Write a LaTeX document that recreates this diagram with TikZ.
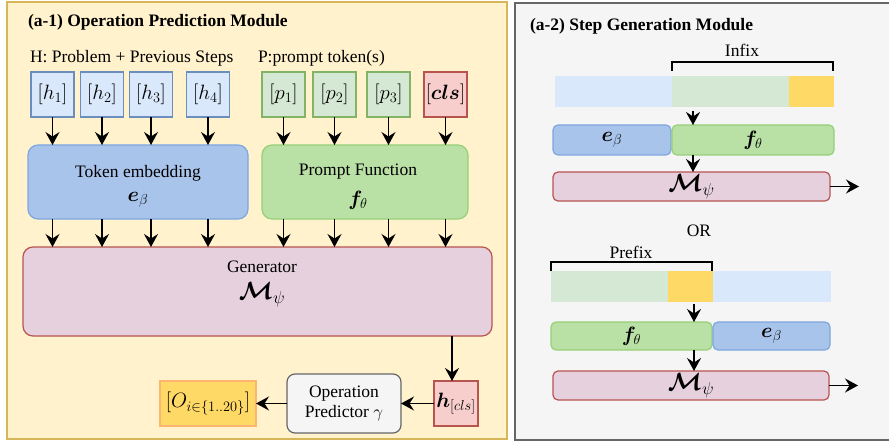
\documentclass[tikz,border=0pt]{standalone}
\usepackage{fontspec}
\setmainfont{Liberation Serif}
\usepackage{bm}
\usetikzlibrary{arrows.meta}
\definecolor{ybg}{HTML}{FFF2CC}\definecolor{yst}{HTML}{D6B656}
\definecolor{gbg}{HTML}{F5F5F5}\definecolor{gst}{HTML}{666666}
\definecolor{tbl}{HTML}{DAE8FC}\definecolor{tblst}{HTML}{6C8EBF}
\definecolor{tgr}{HTML}{D5E8D4}\definecolor{tgrst}{HTML}{82B366}
\definecolor{trd}{HTML}{F8CECC}\definecolor{trdst}{HTML}{B85450}
\definecolor{emb}{HTML}{A9C4EB}\definecolor{embst}{HTML}{7EA6E0}
\definecolor{prm}{HTML}{B9E0A5}\definecolor{prmst}{HTML}{97D077}
\definecolor{gen}{HTML}{E6D0DE}
\definecolor{oyl}{HTML}{FFD966}\definecolor{oylst}{HTML}{FFB570}
\begin{document}
\begin{tikzpicture}[x=1pt,y=-1pt,
  every node/.style={inner sep=0pt, outer sep=0pt},
  arr/.style={-{Stealth[length=13pt,width=14pt,inset=4.5pt]}, line width=1.5pt},
  tokbox/.style={draw, line width=1.2pt, minimum width=43, minimum height=45, font=\fontsize{20}{22}\selectfont},
  hbox/.style={tokbox, fill=tbl, draw=tblst},
  pbox/.style={tokbox, fill=tgr, draw=tgrst},
  rbox/.style={tokbox, fill=trd, draw=trdst},
  bigbox/.style={draw, line width=1.2pt, rounded corners=10pt},
  txt/.style={font=\fontsize{17.5}{20}\selectfont},
  mth/.style={font=\fontsize{20}{22}\selectfont},
  bigm/.style={font=\fontsize{25}{27}\selectfont},
  bar/.style={minimum height=31},
  rbx/.style={draw, line width=1.2pt, rounded corners=5pt, mth}
]
\useasboundingbox (0,0) rectangle (889,441);
% panels
\node[draw=yst, fill=ybg, line width=1.2pt, minimum width=500, minimum height=437, anchor=north west] (pa) at (7,2) {};
\node[draw=gst, fill=gbg, line width=1.2pt, minimum width=390, minimum height=437, anchor=north west] (pb) at (515,3) {};
% titles
\node[anchor=west, font=\bfseries\fontsize{17.5}{20}\selectfont] (t1) at (28,22) {(a-1) Operation Prediction Module};
\node[anchor=west, font=\bfseries\fontsize{17.5}{20}\selectfont] (t2) at (530,26) {(a-2) Step Generation Module};
% labels
\node[txt, anchor=west] (lh) at (30,58) {H: Problem + Previous Steps};
\node[txt, anchor=west] (lp) at (258,58) {P:prompt token(s)};
% tokens
\node[hbox] (h1) at (52.5,94.5) {$[h_1]$};
\node[hbox] (h2) at (102,94.5) {$[h_2]$};
\node[hbox] (h3) at (151,94.5) {$[h_3]$};
\node[hbox] (h4) at (208,94.5) {$[h_4]$};
\node[pbox] (p1) at (283.5,94.5) {$[p_1]$};
\node[pbox] (p2) at (334.5,94.5) {$[p_2]$};
\node[pbox] (p3) at (388.5,94.5) {$[p_3]$};
\node[rbox] (cls) at (445.5,94.5) {$[\bm{cls}]$};
% embedding / prompt function
\node[bigbox, fill=emb, draw=embst, minimum width=220, minimum height=74] (embb) at (138,182) {};
\node[txt] (embt) at (138,173) {Token embedding};
\node[mth] (embm) at (138,200) {$\bm{e}_{\beta}$};
\node[bigbox, fill=prm, draw=prmst, minimum width=206, minimum height=74] (prmb) at (365,182) {};
\node[txt] (prmt) at (358,172) {Prompt Function};
\node[mth] (prmm) at (358,200) {$\bm{f}_{\theta}$};
% generator
\node[bigbox, fill=gen, draw=trdst, minimum width=469, minimum height=89] (genb) at (257.5,291.5) {};
\node[txt] (gent) at (262,267) {Generator};
\node[bigm] (genm) at (262,295) {$\bm{\mathcal{M}}_{\psi}$};
% arrows
\foreach \n in {h1,h2,h3,h4}{
  \draw[arr] (\n.south) -- (\n.south |- embb.north);
  \draw[arr] (\n.south |- embb.south) -- (\n.south |- genb.north);
}
\foreach \n in {p1,p2,p3,cls}{
  \draw[arr] (\n.south) -- (\n.south |- prmb.north);
  \draw[arr] (\n.south |- prmb.south) -- (\n.south |- genb.north);
}
% bottom row
\node[rbox, minimum width=44, font=\fontsize{22}{24}\selectfont] (hcls) at (456,403.5) {$\bm{h}_{[cls]}$};
\node[draw=gst, fill=gbg, line width=1.2pt, rounded corners=8pt, minimum width=114, minimum height=59, txt, align=center] (pred) at (344,403.5) {Operation\\Predictor $\gamma$};
\node[draw=oylst, fill=oyl, line width=1.2pt, minimum width=96, minimum height=45, mth] (ob) at (208,403.5) {$[O_{i\in\{1..20\}}]$};
\coordinate (gx) at (452,336);
\draw[arr] (gx) -- (gx |- hcls.north);
\draw[arr] (hcls.west) -- (pred.east);
\draw[arr] (pred.west) -- (ob.east);
% ---------- right panel: infix ----------
\node[txt] (infix) at (742,50) {Infix};
\draw[line width=1.2pt] (672,71) -- (672,62) -- (833,62) -- (833,71);
\node[bar, fill=tbl, minimum width=117, anchor=north west] (b1a) at (555,76) {};
\node[bar, fill=tgr, minimum width=117, anchor=north west] (b1b) at (672,76) {};
\node[bar, fill=oyl, minimum width=45, anchor=north west] (b1c) at (789,76) {};
\node[rbx, fill=emb, draw=embst, minimum width=118, minimum height=30] (e1) at (612,140) {$\bm{e}_{\beta}$};
\node[rbx, fill=prm, draw=prmst, minimum width=162, minimum height=30] (f1) at (753,140) {$\bm{f}_{\theta}$};
\node[rbx, fill=gen, draw=trdst, minimum width=277, minimum height=29, bigm] (m1) at (691.5,186.5) {$\bm{\mathcal{M}}_{\psi}$};
\coordinate (a1) at (693,111);
\draw[arr] (a1) -- (a1 |- f1.north);
\draw[arr] (a1 |- f1.south) -- (a1 |- m1.north);
\coordinate (o1) at (859,186.5);
\draw[arr] (m1.east) -- (o1);
% ---------- right panel: prefix ----------
\node[txt] (or) at (699,231) {OR};
\node[txt] (prefix) at (631,252) {Prefix};
\draw[line width=1.2pt] (551,271) -- (551,262) -- (712,262) -- (712,271);
\node[bar, fill=tgr, minimum width=117, anchor=north west] (b2a) at (551,271) {};
\node[bar, fill=oyl, minimum width=45, anchor=north west] (b2b) at (668,271) {};
\node[bar, fill=tbl, minimum width=118, anchor=north west] (b2c) at (713,271) {};
\node[rbx, fill=prm, draw=prmst, minimum width=161, minimum height=28] (f2) at (631.5,336) {$\bm{f}_{\theta}$};
\node[rbx, fill=emb, draw=embst, minimum width=117, minimum height=28] (e2) at (771.5,336) {$\bm{e}_{\beta}$};
\node[rbx, fill=gen, draw=trdst, minimum width=276, minimum height=29, bigm] (m2) at (691,385.5) {$\bm{\mathcal{M}}_{\psi}$};
\coordinate (a2) at (694,304);
\draw[arr] (a2) -- (a2 |- f2.north);
\draw[arr] (a2 |- f2.south) -- (a2 |- m2.north);
\coordinate (o2) at (858,385.5);
\draw[arr] (m2.east) -- (o2);
\end{tikzpicture}
\end{document}
